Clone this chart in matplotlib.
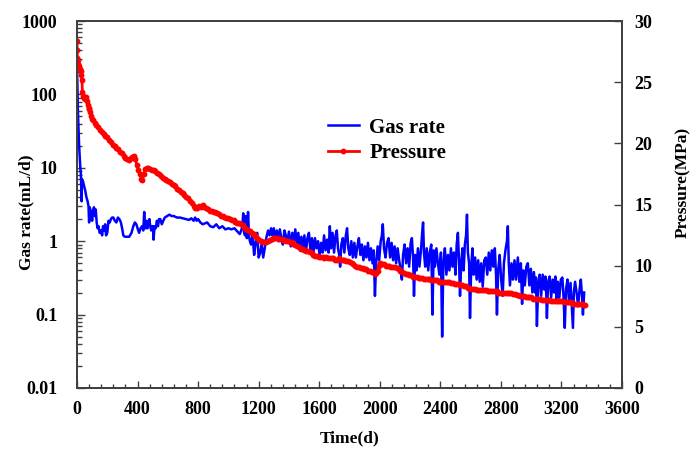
import matplotlib
matplotlib.use("Agg")
import matplotlib.pyplot as plt
from matplotlib.ticker import FixedLocator, MultipleLocator, LogLocator, NullFormatter, FuncFormatter


# vazão de gás (dia, mL/d)
gas_days = [
    0, 3, 6, 10, 14, 18, 22, 26, 30, 33, 40, 48, 55, 62, 70, 76, 80, 84, 90, 96,
    100, 106, 112, 118, 124, 130, 136, 142, 150, 158, 166, 172, 178, 186, 192, 200,
    208, 216, 224, 232, 240, 250, 260, 270, 280, 290, 298, 306, 316, 330, 345, 360,
    372, 382, 392, 400, 410, 420, 430, 438, 444, 448, 455, 460, 466, 472, 478, 484,
    490, 496, 502, 506, 512, 520, 528, 535, 542, 550, 560, 570, 580, 595, 610, 625,
    640, 660, 680, 700, 720, 740, 755, 770, 780, 790, 800, 815, 830, 845, 860, 880,
    900, 920, 940, 960, 980, 1000, 1020, 1040, 1060, 1075, 1085, 1092, 1098, 1104, 1110, 1116,
    1122, 1130, 1136, 1142,
    1150, 1160, 1170, 1180, 1190, 1200, 1210, 1220, 1230, 1240, 1250, 1262, 1272, 1282,
    1290, 1300, 1310, 1320, 1330, 1340, 1350, 1360, 1370, 1380, 1390, 1400, 1412, 1422,
    1432, 1442, 1452, 1462, 1472, 1482, 1492, 1502, 1512, 1522, 1532, 1542, 1552, 1562,
    1572, 1582, 1592, 1602, 1612, 1622, 1632, 1642, 1652, 1662, 1670, 1678, 1688, 1698,
    1708, 1716, 1724, 1732, 1738, 1746, 1756, 1766, 1776, 1784, 1792, 1802, 1812, 1822,
    1832, 1842, 1852, 1862, 1872, 1882, 1892, 1902, 1912, 1922, 1932, 1942, 1952, 1960,
    1968, 1976, 1986, 1996, 2006, 2014, 2020, 2028, 2038, 2048, 2058, 2068, 2078, 2088,
    2098, 2108, 2118, 2128, 2138, 2146, 2154, 2164, 2174, 2184, 2194, 2204, 2212, 2220,
    2226, 2234, 2242, 2252, 2262, 2272, 2280, 2286, 2292, 2300, 2310, 2320, 2330, 2340,
    2348, 2356, 2364, 2374, 2384, 2394, 2404, 2412, 2420, 2430, 2440, 2450, 2460, 2470,
    2480, 2490, 2500, 2508, 2516, 2524, 2530, 2538, 2546, 2554, 2562, 2570, 2576, 2582,
    2590, 2596, 2604, 2612, 2620, 2630, 2640, 2650, 2660, 2670, 2680, 2690, 2700, 2710,
    2720, 2730, 2740, 2750, 2760, 2768, 2774, 2782, 2792, 2802, 2812, 2820, 2830, 2840,
    2846, 2852, 2860, 2870, 2880, 2890, 2900, 2912, 2922, 2932, 2940, 2948, 2958, 2968,
    2978, 2988, 2998, 3008, 3018, 3026, 3032, 3038, 3046, 3056, 3066, 3076, 3086, 3094,
    3100, 3104, 3112, 3122, 3132, 3142, 3152, 3160, 3168, 3176, 3186, 3196, 3206, 3214,
    3222, 3230, 3240, 3250, 3260, 3268, 3276, 3282, 3290, 3300, 3310, 3320, 3328, 3336,
    3342, 3350,
]
gas_rate = [
    250, 120, 60, 35, 20, 14, 10, 8, 3.5, 7, 6.5, 5.5, 4.8, 4.0, 3.5, 3.0, 1.8, 2.9, 2.6, 2.2,
    1.9, 2.6, 2.9, 2.2, 2.7, 1.8, 1.5, 1.6, 1.3, 1.4, 1.2, 1.6, 1.4, 1.7, 1.2, 1.3,
    1.9, 1.8, 2.0, 2.1, 2.1, 1.9, 1.8, 2.1, 2.0, 1.8, 1.5, 1.2, 1.15, 1.15, 1.15, 1.3,
    1.6, 1.8, 1.7, 1.5, 1.3, 1.5, 1.6, 1.4, 2.5, 1.6, 1.5, 1.9, 1.5, 1.7, 2.0, 1.6,
    1.4, 1.6, 1.6, 1.05, 1.6, 1.5, 1.9, 1.6, 2.0, 2.0, 1.7, 1.9, 2.1, 2.2, 2.3, 2.2,
    2.2, 2.1, 2.1, 2.05, 2.0, 1.95, 2.05, 1.9, 2.1, 1.9, 2.0, 1.8, 1.7, 1.75, 1.8, 1.6,
    1.55, 1.7, 1.5, 1.6, 1.45, 1.5, 1.45, 1.5, 1.35, 1.25, 1.4, 1.6, 2.4, 1.3, 1.2, 2.2,
    1.1, 2.5, 1.2, 1.0,
    0.9, 1.2, 0.65, 0.95, 1.3, 0.6, 0.7, 0.9, 0.6, 0.8, 1.1, 1.4, 1.2, 1.5,
    1.2, 1.5, 1.1, 1.4, 1.0, 1.45, 1.1, 0.9, 1.4, 1.2, 0.95, 1.35, 0.85, 1.3,
    1.0, 1.45, 0.9, 1.3, 0.75, 1.15, 0.8, 1.2, 0.7, 1.1, 1.3, 0.75, 1.1, 0.7,
    1.1, 0.8, 1.0, 0.65, 0.95, 0.7, 1.2, 0.75, 1.05, 0.7, 1.6, 0.8, 1.3, 0.7,
    1.2, 1.4, 0.8, 0.65, 0.45, 0.9, 1.1, 0.7, 1.2, 1.5, 0.8, 0.65, 1.0, 0.6,
    0.95, 0.6, 0.85, 1.1, 0.65, 0.9, 0.55, 0.85, 0.6, 0.95, 0.55, 0.8, 0.5, 0.75,
    0.18, 0.5, 0.85, 0.55, 1.0, 1.2, 1.7, 0.8, 0.6, 0.95, 1.1, 0.6, 0.95, 0.55,
    0.85, 0.5, 0.8, 0.55, 0.4, 0.3, 0.65, 0.9, 0.5, 0.8, 0.45, 0.95, 1.1, 0.6,
    0.18, 0.65, 0.4, 0.8, 0.45, 0.75, 1.3, 1.8, 0.7, 0.45, 0.8, 0.4, 0.7, 0.9,
    0.1, 0.75, 0.45, 0.8, 0.5, 0.35, 0.7, 0.05, 0.5, 0.8, 0.35, 0.65, 0.4, 0.8,
    0.45, 0.7, 0.35, 0.9, 1.3, 0.5, 0.18, 0.5, 0.8, 0.4, 0.9, 1.2, 2.3, 0.7,
    0.5, 0.09, 0.45, 0.8, 0.35, 0.6, 0.3, 0.55, 0.28, 0.5, 0.24, 0.55, 0.6, 0.35,
    0.7, 0.4, 0.75, 0.45, 0.8, 0.35, 0.1, 0.4, 0.65, 0.3, 0.18, 0.5, 0.75, 1.0,
    1.6, 0.5, 0.25, 0.5, 0.3, 0.55, 0.3, 0.6, 0.28, 0.5, 0.14, 0.4, 0.25, 0.45,
    0.5, 0.25, 0.42, 0.2, 0.38, 0.2, 0.32, 0.07, 0.25, 0.35, 0.18, 0.35, 0.22, 0.33,
    0.18, 0.09, 0.28, 0.33, 0.17, 0.3, 0.2, 0.33, 0.15, 0.28, 0.17, 0.3, 0.32, 0.17,
    0.066, 0.22, 0.3, 0.15, 0.27, 0.13, 0.066, 0.2, 0.28, 0.2, 0.13, 0.22, 0.3, 0.18,
    0.1, 0.2,
]

# pressão (dia, MPa)
p_days = [
    0, 1, 2, 5, 8, 12, 18, 24, 28, 32, 36, 40, 46, 52, 58, 64, 70, 76, 82, 88,
    94, 100, 106, 116, 128, 140, 152, 164, 176, 188, 200, 212, 224, 236, 248, 260,
    272, 284, 296, 308, 320, 332, 344, 356, 366, 376, 386, 396, 406, 416, 426, 432,
    440, 450, 460, 470, 482, 494, 506, 518, 530, 542, 554, 566, 578, 590, 602, 614,
    626, 638, 650, 662, 674, 686, 698, 710, 722, 734, 746, 758, 770, 782, 794, 806,
    818, 830, 842, 854, 866, 878, 890, 902, 914, 926, 938, 950, 962, 974, 986, 998,
    1010, 1022, 1034, 1046, 1058, 1070, 1082, 1094, 1106, 1118, 1130, 1142, 1154, 1166,
    1178, 1190, 1202, 1214, 1226, 1238, 1250, 1262, 1274, 1286, 1298, 1310, 1322, 1334,
    1346, 1358, 1370, 1382, 1394, 1406, 1418, 1430, 1442, 1454, 1466, 1478, 1490, 1502,
    1514, 1526, 1538, 1550, 1562, 1574, 1586, 1598, 1610, 1622, 1634, 1646, 1658, 1670,
    1682, 1694, 1706, 1718, 1730, 1742, 1754, 1766, 1778, 1790, 1802, 1814, 1826, 1838,
    1850, 1862, 1874, 1886, 1898, 1910, 1922, 1934, 1946, 1958, 1968, 1976, 1986, 1994,
    2004, 2016, 2028, 2040, 2052, 2064, 2076, 2088, 2100, 2112, 2124, 2136, 2148, 2160,
    2172, 2184, 2196, 2208, 2220, 2232, 2244, 2256, 2268, 2280, 2292, 2304, 2316, 2328,
    2340, 2352, 2364, 2376, 2388, 2400, 2412, 2424, 2436, 2448, 2460, 2472, 2484, 2496,
    2508, 2520, 2532, 2544, 2556, 2568, 2580, 2592, 2604, 2616, 2628, 2640, 2652, 2664,
    2676, 2688, 2700, 2712, 2724, 2736, 2748, 2760, 2772, 2784, 2796, 2808, 2820, 2832,
    2844, 2856, 2868, 2880, 2892, 2904, 2916, 2928, 2940, 2952, 2964, 2976, 2988, 3000,
    3012, 3024, 3036, 3048, 3060, 3072, 3084, 3096, 3108, 3120, 3132, 3144, 3156, 3168,
    3180, 3192, 3204, 3216, 3228, 3240, 3252, 3264, 3276, 3288, 3300, 3312, 3324, 3336,
    3348, 3355,
]
pressure = [
    28.4, 27.6, 27.0, 26.8, 26.5, 26.3, 26.1, 25.9, 25.6, 25.2, 24.2, 23.9, 23.7, 23.6, 23.8, 23.5, 23.1, 22.9, 22.8, 22.6,
    22.2, 22.0, 21.9, 21.7, 21.5, 21.3, 21.1, 20.9, 20.8, 20.6, 20.5, 20.3, 20.1, 19.9, 19.8, 19.6,
    19.5, 19.3, 19.2, 19.0, 18.8, 18.7, 18.6, 18.8, 18.9, 19.0, 18.7, 18.2, 17.8, 17.5, 17.1, 17.0,
    17.5, 17.9, 18.0, 18.0, 17.9, 17.8, 17.8, 17.7, 17.6, 17.5, 17.3, 17.2, 17.1, 17.0, 16.9, 16.8,
    16.7, 16.6, 16.5, 16.3, 16.2, 16.0, 15.9, 15.8, 15.6, 15.5, 15.3, 15.1, 14.9, 14.7, 14.7, 14.9,
    14.8, 15.0, 14.8, 14.7, 14.6, 14.5, 14.5, 14.4, 14.4, 14.3, 14.2, 14.1, 14.1, 14.0, 13.9, 13.9,
    13.8, 13.7, 13.7, 13.6, 13.5, 13.5, 13.4, 13.3, 13.2, 13.0, 12.9, 12.8, 12.7, 12.6,
    12.4, 12.3, 12.1, 12.0, 11.9, 11.9, 11.9, 12.0, 12.1, 12.2, 12.3, 12.3, 12.3, 12.2,
    12.2, 12.1, 12.1, 12.0, 12.0, 11.9, 11.9, 11.8, 11.7, 11.6, 11.5, 11.4, 11.4, 11.3,
    11.2, 11.2, 11.1, 11.0, 10.9, 10.8, 10.8, 10.7, 10.7, 10.7, 10.6, 10.7, 10.6, 10.6,
    10.6, 10.6, 10.5, 10.5, 10.6, 10.5, 10.5, 10.5, 10.4, 10.4, 10.3, 10.2, 10.1, 10.0,
    9.9, 9.9, 9.8, 9.8, 9.7, 9.7, 9.6, 9.6, 9.5, 9.5, 9.3, 9.4, 9.6, 10.0,
    10.2, 10.1, 10.1, 10.0, 10.0, 10.0, 9.9, 9.9, 9.9, 9.8, 9.7, 9.6, 9.5, 9.4,
    9.3, 9.3, 9.2, 9.2, 9.1, 9.1, 9.1, 9.0, 9.0, 9.0, 8.9, 8.9, 8.9, 8.9,
    8.8, 8.8, 8.8, 8.8, 8.7, 8.7, 8.7, 8.7, 8.7, 8.7, 8.7, 8.6, 8.6, 8.5,
    8.5, 8.5, 8.4, 8.4, 8.3, 8.3, 8.2, 8.2, 8.1, 8.1, 8.1, 8.0, 8.0, 8.0,
    8.0, 8.0, 8.0, 7.9, 7.9, 7.9, 7.9, 7.9, 7.9, 7.8, 7.8, 7.8, 7.8, 7.8,
    7.8, 7.8, 7.8, 7.7, 7.7, 7.6, 7.6, 7.5, 7.5, 7.5, 7.4, 7.4, 7.4, 7.4,
    7.3, 7.3, 7.3, 7.3, 7.3, 7.2, 7.2, 7.2, 7.2, 7.2, 7.1, 7.1, 7.1, 7.1,
    7.1, 7.1, 7.1, 7.0, 7.0, 7.0, 7.0, 7.0, 6.9, 6.9, 6.9, 6.9, 6.9, 6.9,
    6.8, 6.8,
]

x_ticks = [0, 400, 800, 1200, 1600, 2000, 2400, 2800, 3200, 3600]
rate_ticks = [0.01, 0.1, 1, 10, 100, 1000]
p_ticks = [0, 5, 10, 15, 20, 25, 30]


def main():
    plt.rcParams['font.family'] = ['Liberation Serif', 'DejaVu Serif']
    plt.rcParams['font.weight'] = 'bold'
    plt.rcParams['axes.labelweight'] = 'bold'

    fig = plt.figure(figsize=(6.9, 4.53), dpi=100)
    ax = fig.add_axes([77 / 690, 65 / 453, 545 / 690, 367 / 453])
    ax2 = ax.twinx()

    l1, = ax.plot(gas_days, gas_rate, color='#0000ff', lw=1.8, label='Gas rate')
    l2, = ax2.plot(p_days, pressure, color='#ff0000', lw=2.0, marker='o',
                   markersize=3.2, label='Pressure')

    ax.set_yscale('log')
    ax.set_ylim(0.01, 1000)
    ax.set_xlim(0, 3600)
    ax2.set_ylim(0, 30)

    ax.xaxis.set_major_locator(FixedLocator(x_ticks))
    ax.xaxis.set_minor_locator(MultipleLocator(80))
    ax.yaxis.set_major_locator(FixedLocator(rate_ticks))
    ax.yaxis.set_minor_locator(LogLocator(base=10, subs=range(2, 10)))
    ax.yaxis.set_minor_formatter(NullFormatter())
    ax.yaxis.set_major_formatter(FuncFormatter(lambda v, p: '%g' % v))
    ax2.yaxis.set_major_locator(FixedLocator(p_ticks))

    spine_c = '#404040'
    for a in (ax, ax2):
        for s in a.spines.values():
            s.set_color(spine_c)
            s.set_linewidth(1.3)

    ax.tick_params(axis='x', which='major', direction='in', length=5, width=1,
                   color=spine_c, labelsize=13, pad=9, top=False)
    ax.tick_params(axis='x', which='minor', direction='in', length=3, width=1,
                   color=spine_c, top=False)
    ax.tick_params(axis='y', which='major', direction='in', length=6, width=1,
                   color=spine_c, labelsize=13, pad=14, right=False)
    ax.tick_params(axis='y', which='minor', direction='in', length=3.5, width=1,
                   color=spine_c, right=False)
    ax2.tick_params(axis='y', which='major', direction='in', length=6, width=1,
                    color=spine_c, labelsize=13, pad=9)

    ax.set_xlabel('Time(d)', fontsize=12.5)
    ax.set_ylabel('Gas rate(mL/d)', fontsize=12.5)
    ax2.set_ylabel('Pressure(MPa)', fontsize=12.5)
    ax.xaxis.set_label_coords(0.5, -0.115)
    ax.yaxis.set_label_coords(-0.078, 0.48)
    ax2.yaxis.set_label_coords(1.098, 0.56)

    ax2.legend([l1, l2], ['Gas rate', 'Pressure'], loc='upper left',
               bbox_to_anchor=(313 / 690, 1 - 103 / 453), bbox_transform=fig.transFigure,
               frameon=False, fontsize=15, handlelength=1.5, handletextpad=0.5,
               labelspacing=0.28, borderpad=0.2)

    fig.savefig('out.png', dpi=100)


if __name__ == "__main__":
    main()
